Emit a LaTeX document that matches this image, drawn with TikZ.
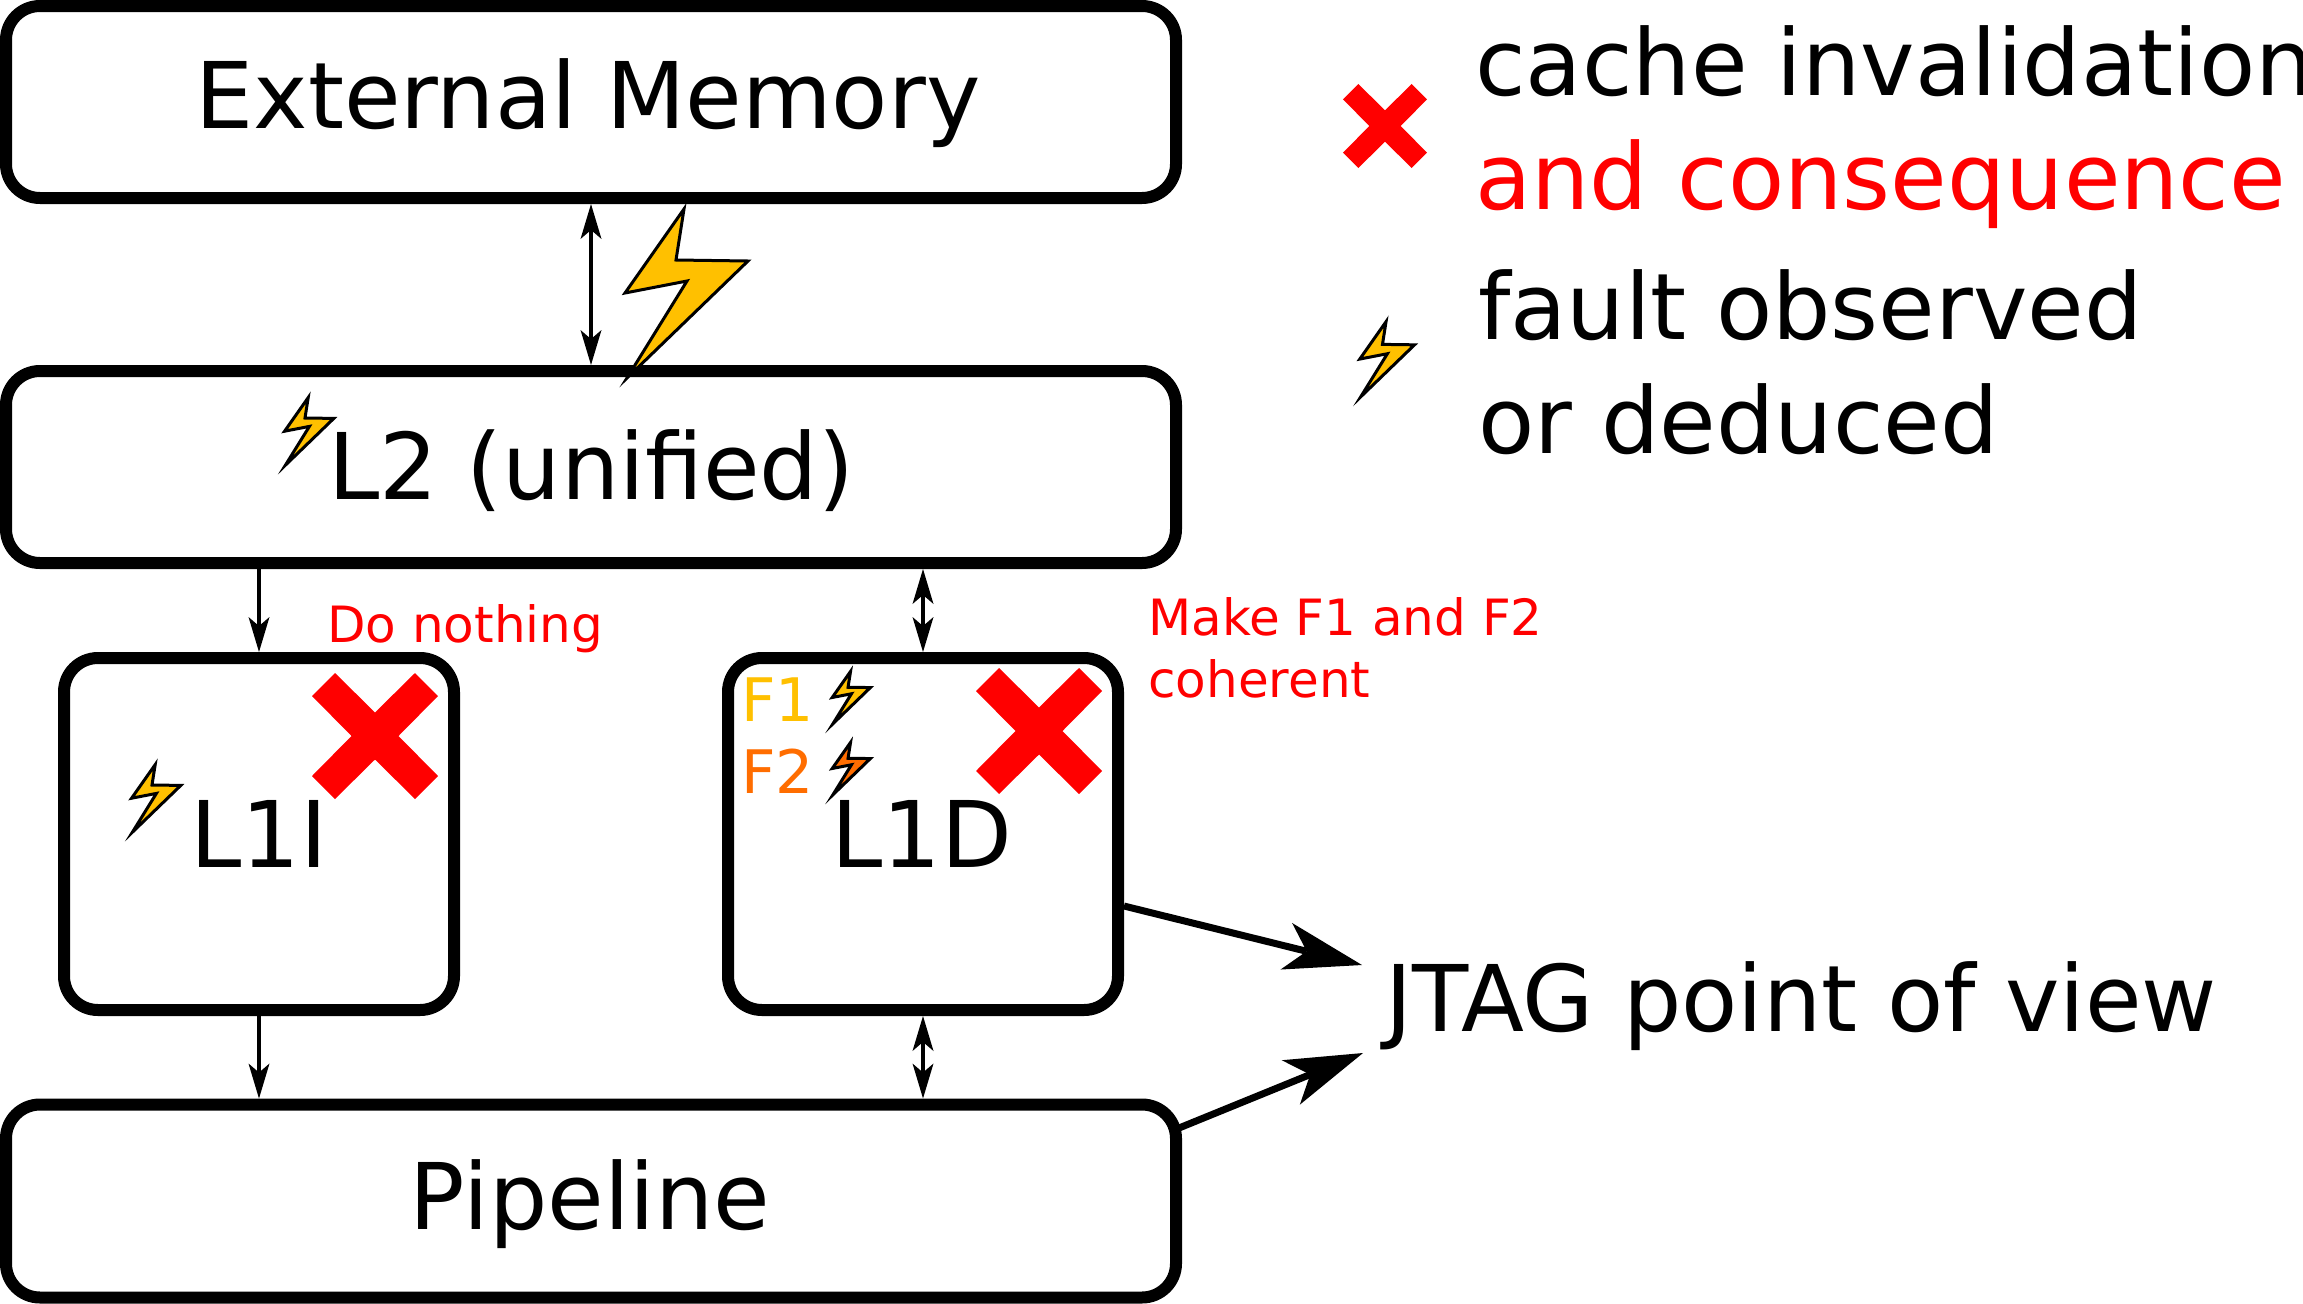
\documentclass[tikz,border=0pt]{standalone}
\usepackage{fontspec}
\setmainfont{DejaVu Sans}
\usetikzlibrary{arrows.meta}
\definecolor{boltyellow}{HTML}{FFC000}
\definecolor{boltorange}{HTML}{FF6D00}
\definecolor{markred}{HTML}{FF0000}
\newcommand{\bigtext}{\fontsize{92}{92}\selectfont}
\newcommand{\smalltext}{\fontsize{50}{50}\selectfont}
\newcommand{\tagtext}{\fontsize{60}{60}\selectfont}
\tikzset{
  x=1pt, y=-1pt,
  boxnode/.style={draw=black, line width=12pt, rounded corners=34pt, fill=white,
    inner sep=0pt, font=\bigtext, text depth=0pt},
  thinlink/.style={line width=4pt, draw=black},
  onehead/.style={-{Stealth[length=35pt,width=21pt,inset=9pt,line width=0pt]}},
  bothheads/.style={{Stealth[length=35pt,width=21pt,inset=9pt,line width=0pt]}-{Stealth[length=35pt,width=21pt,inset=9pt,line width=0pt]}},
  jtaglink/.style={line width=7pt, draw=black, -{Stealth[length=78pt,width=48pt,inset=21pt,line width=0pt]}},
  legendtext/.style={anchor=base west, inner sep=0pt, font=\bigtext},
  redsmall/.style={anchor=base west, inner sep=0pt, font=\smalltext, text=markred},
  tagnode/.style={anchor=base west, inner sep=0pt, font=\tagtext},
  bolt/.pic={
    \draw[pic actions, line width=3pt, line join=miter]
      (6,-7) -- (66,-104) -- (4,-92) -- (63,-176) -- (55,-125) -- (127,-124) -- cycle;
  },
  cross/.pic={
    \fill[markred] (-40,-63) -- (0,-23.5) -- (40,-63) -- (63,-40) -- (23.5,0) -- (63,40)
      -- (40,63) -- (0,23.5) -- (-40,63) -- (-63,40) -- (-23.5,0) -- (-63,-40) -- cycle;
  }
}
\begin{document}
\begin{tikzpicture}
  \useasboundingbox (0,0) rectangle (2303,1304);

  % cache hierarchy
  \node[boxnode, minimum width=1170pt, minimum height=192pt, text height=53pt] (ext) at (591,102) {External Memory\kern6pt};
  \node[boxnode, minimum width=1170pt, minimum height=192pt, text height=64pt] (l2) at (591,467) {L2 (unified)};
  \node[boxnode, minimum width=390pt, minimum height=352pt, text height=66pt] (l1i) at (259,834) {L1I};
  \node[boxnode, minimum width=390pt, minimum height=352pt, text height=66pt] (l1d) at (923,834) {L1D\kern2pt};
  \node[boxnode, minimum width=1170pt, minimum height=193pt, text height=56pt] (pipe) at (591,1201) {Pipeline\kern2pt};

  % links between the levels
  \draw[thinlink, bothheads] (ext.south) -- (l2.north);
  \draw[thinlink, onehead] (l2.south -| l1i.north) -- (l1i.north);
  \draw[thinlink, bothheads] (l2.south -| l1d.north) -- (l1d.north);
  \draw[thinlink, onehead] (l1i.south) -- (l1i.south |- pipe.north);
  \draw[thinlink, bothheads] (l1d.south) -- (l1d.south |- pipe.north);

  % JTAG observation
  \node[legendtext] (jtag) at (1385,1031) {JTAG point of view};
  \coordinate (jtagfromd) at (1124,906);
  \coordinate (jtagtod) at (1362,965);
  \coordinate (jtagfrompipe) at (1179,1128);
  \coordinate (jtagtopipe) at (1363,1053);
  \draw[jtaglink] (jtagfromd) -- (jtagtod);
  \draw[jtaglink] (jtagfrompipe) -- (jtagtopipe);

  % faults
  \pic[fill=boltyellow] at (621,385) {bolt};
  \pic[fill=boltyellow, scale=.4] at (283,468) {bolt};
  \pic[fill=boltyellow, scale=.4] at (130,835) {bolt};
  \pic[fill=boltyellow, scale=.31] at (831,726) {bolt};
  \pic[fill=boltorange, scale=.31] at (831,797) {bolt};
  \pic[fill=boltyellow, scale=.445] at (1358,400) {bolt};

  \node[tagnode, text=boltyellow] (f1) at (741,721) {F1};
  \node[tagnode, text=boltorange] (f2) at (741,793) {F2};

  % invalidations and their consequences
  \pic at (375,736) {cross};
  \pic at (1039,731) {cross};
  \pic[scale=.667] at (1385,126) {cross};
  \node[redsmall] (nothing) at (327,642) {Do nothing};
  \node[redsmall] (make) at (1148,635) {Make F1 and F2};
  \node[redsmall] (coherent) at (1148,697) {coherent};

  % key
  \node[legendtext] (k1) at (1475,95) {cache invalidation};
  \node[legendtext, text=markred] (k2) at (1475,209) {and consequence};
  \node[legendtext] (k3) at (1478,339) {fault observed};
  \node[legendtext] (k4) at (1478,453) {or deduced};
\end{tikzpicture}
\end{document}
